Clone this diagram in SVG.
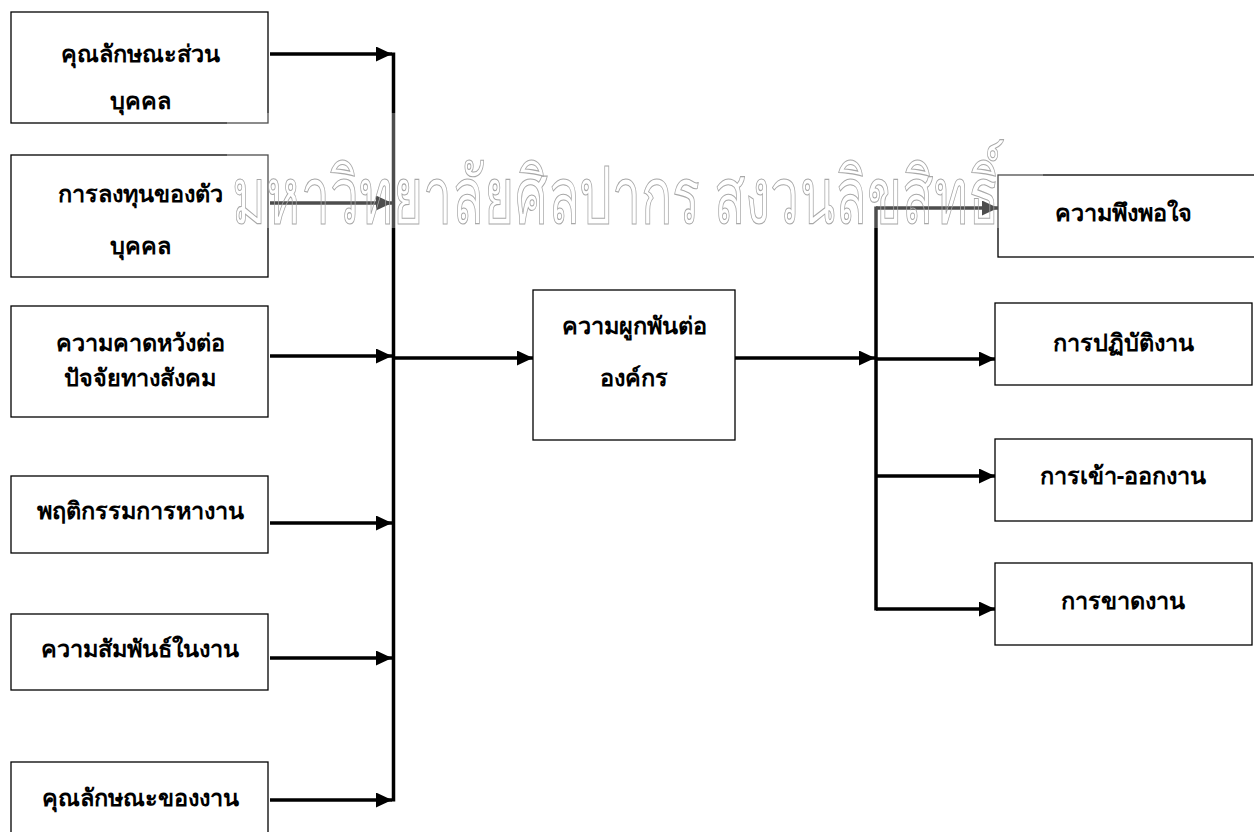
<svg xmlns="http://www.w3.org/2000/svg" width="1254" height="832" viewBox="0 0 1254 832">
<defs>
<marker id="ah" markerUnits="userSpaceOnUse" markerWidth="17" markerHeight="15" refX="16" refY="7.5" orient="auto">
<path d="M0,0 L16,7.5 L0,15 z" fill="#000"/>
</marker>
<style>
.box{fill:#fff;stroke:#000;stroke-width:1.3}
.t{font-family:"Noto Sans","DejaVu Sans",sans-serif;font-weight:bold;font-size:23.5px;fill:#000;text-anchor:middle;dominant-baseline:central}
.c{stroke:#000;stroke-width:3.5;fill:none}
.a{stroke:#000;stroke-width:3.5;fill:none;marker-end:url(#ah)}
.wm{font-family:"Noto Sans","DejaVu Sans",sans-serif;font-size:80px;fill:none;stroke:#a8a8a8;stroke-width:1.1}
</style>
</defs>
<rect width="1254" height="832" fill="#fff"/>
<g id="n1"><rect class="box" x="11" y="12" width="257" height="111"/><text class="t" x="140" y="53">คุณลักษณะส่วน</text><text class="t" x="140" y="100">บุคคล</text></g>
<g id="n2"><rect class="box" x="11" y="155" width="257" height="122"/><text class="t" x="140" y="193">การลงทุนของตัว</text><text class="t" x="140" y="245">บุคคล</text></g>
<g id="n3"><rect class="box" x="11" y="306" width="257" height="111"/><text class="t" x="140" y="342">ความคาดหวังต่อ</text><text class="t" x="140" y="377">ปัจจัยทางสังคม</text></g>
<g id="n4"><rect class="box" x="11" y="476" width="257" height="77"/><text class="t" x="140" y="510">พฤติกรรมการหางาน</text></g>
<g id="n5"><rect class="box" x="11" y="614" width="257" height="76"/><text class="t" x="140" y="648">ความสัมพันธ์ในงาน</text></g>
<g id="n6"><rect class="box" x="11" y="762" width="257" height="80"/><text class="t" x="140" y="797">คุณลักษณะของงาน</text></g>
<g id="center"><rect class="box" x="533" y="290" width="202" height="150"/><text class="t" x="634" y="325">ความผูกพันต่อ</text><text class="t" x="634" y="377">องค์กร</text></g>
<g id="r1"><rect class="box" x="998" y="175" width="260" height="82"/><text class="t" x="1123" y="212">ความพึงพอใจ</text></g>
<g id="r2"><rect class="box" x="995" y="303" width="257" height="82"/><text class="t" x="1123" y="342">การปฏิบัติงาน</text></g>
<g id="r3"><rect class="box" x="995" y="439" width="257" height="82"/><text class="t" x="1123" y="475">การเข้า-ออกงาน</text></g>
<g id="r4"><rect class="box" x="995" y="563" width="257" height="82"/><text class="t" x="1123" y="600">การขาดงาน</text></g>
<g id="connectors">
<line class="a" x1="270" y1="54" x2="392" y2="54"/>
<line class="a" x1="270" y1="203" x2="392" y2="203"/>
<line class="a" x1="270" y1="356" x2="392" y2="356"/>
<line class="a" x1="270" y1="523" x2="392" y2="523"/>
<line class="a" x1="270" y1="658" x2="392" y2="658"/>
<line class="a" x1="270" y1="800" x2="392" y2="800"/>
<line class="c" x1="393.5" y1="52.5" x2="393.5" y2="801.5"/>
<line class="a" x1="395" y1="358" x2="533" y2="358"/>
<line class="a" x1="735" y1="358" x2="875" y2="358"/>
<line class="c" x1="876" y1="206.5" x2="876" y2="610.5"/>
<line class="a" x1="876" y1="208" x2="998" y2="208"/>
<line class="a" x1="876" y1="359" x2="995" y2="359"/>
<line class="a" x1="876" y1="476" x2="995" y2="476"/>
<line class="a" x1="876" y1="609" x2="995" y2="609"/>
</g>
<rect x="227" y="113" width="816" height="115" fill="#fff" opacity="0.3"/>
<text class="wm" x="232" y="224" textLength="768" lengthAdjust="spacingAndGlyphs">มหาวิทยาลัยศิลปากร สงวนลิขสิทธิ์</text>
</svg>
